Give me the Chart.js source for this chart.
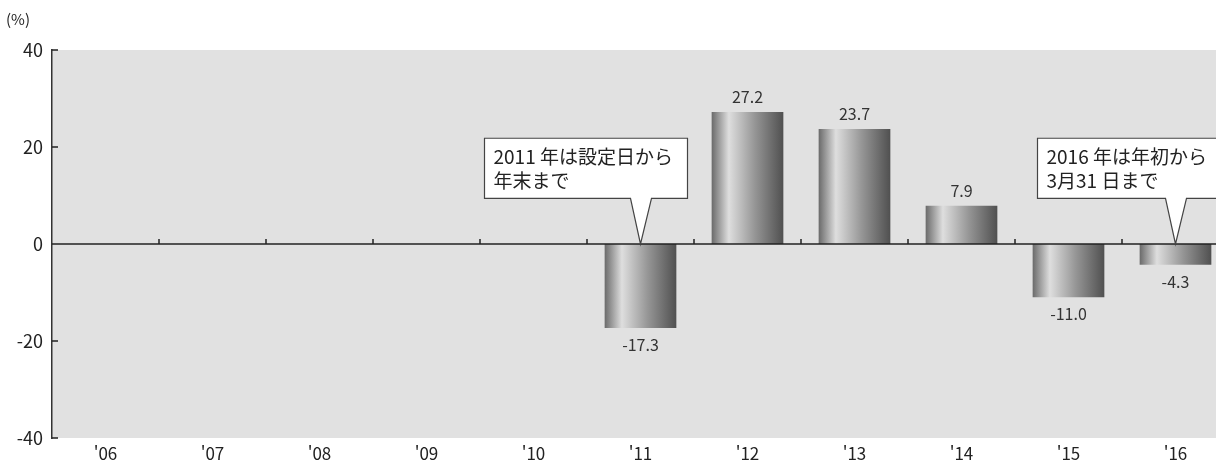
<!DOCTYPE html>
<html lang="ja">
<head>
    <meta charset="UTF-8">
    <title>年間騰落率</title>
    <script src="https://cdn.jsdelivr.net/npm/chart.js"></script>
    <style>
        body { margin: 0; background: #fff; overflow: hidden; }
        #wrap { position: relative; width: 1229px; height: 465px; }
    </style>
</head>
<body>
    <div id="wrap"><canvas id="returnChart"></canvas></div>

    <script>
        // データ
        const years = ["'06", "'07", "'08", "'09", "'10", "'11", "'12", "'13", "'14", "'15", "'16"];
        const returns = [null, null, null, null, null, -17.3, 27.2, 23.7, 7.9, -11.0, -4.3];
        const yTicks = [40, 20, 0, -20, -40];
        const callouts = [
            { index: 5, lines: ['2011 年は設定日から', '年末まで'] },
            { index: 10, lines: ['2016 年は年初から', '3月31 日まで'] }
        ];

        const FONT = '"Noto Sans CJK JP", "Noto Sans", sans-serif';

        // 棒のグラデーション
        const barFill = (c) => {
            const chart = c.chart;
            if (!chart.chartArea) return '#888';
            const xs = chart.scales.x;
            const cx = xs.getPixelForValue(c.dataIndex);
            const w = xs.width / years.length * 0.67;
            const g = chart.ctx.createLinearGradient(cx - w / 2, 0, cx + w / 2, 0);
            g.addColorStop(0, '#6a6a6a');
            g.addColorStop(0.24, '#dedede');
            g.addColorStop(0.6, '#969696');
            g.addColorStop(1, '#505050');
            return g;
        };

        const decorations = {
            id: 'decorations',
            beforeDraw(chart) {
                const { ctx, chartArea: a } = chart;
                ctx.save();
                ctx.fillStyle = '#e1e1e1';
                ctx.fillRect(a.left, a.top, a.right - a.left, a.bottom - a.top);
                ctx.restore();
            },
            afterDatasetsDraw(chart) {
                const { ctx, chartArea: a, scales: { x, y } } = chart;
                const y0 = y.getPixelForValue(0);
                ctx.save();
                // ゼロ線と目盛り
                ctx.strokeStyle = '#222';
                ctx.lineWidth = 1.5;
                ctx.beginPath();
                ctx.moveTo(a.left, y0);
                ctx.lineTo(a.right, y0);
                const step = x.width / years.length;
                for (let i = 1; i < years.length; i++) {
                    const bx = a.left + step * i;
                    ctx.moveTo(bx, y0);
                    ctx.lineTo(bx, y0 - 5);
                }
                // 縦軸の目盛り
                yTicks.forEach(v => {
                    const py = y.getPixelForValue(v);
                    ctx.moveTo(a.left, py);
                    ctx.lineTo(a.left + 6, py);
                });
                ctx.stroke();

                // 数値ラベル
                ctx.fillStyle = '#333';
                ctx.font = '16px ' + FONT;
                ctx.textAlign = 'center';
                ctx.textBaseline = 'middle';
                chart.getDatasetMeta(0).data.forEach((bar, i) => {
                    const v = returns[i];
                    if (v === null) return;
                    const ly = v >= 0 ? bar.y - 15 : bar.y + 17;
                    ctx.fillText(v.toFixed(1), bar.x, ly);
                });

                // 吹き出し
                callouts.forEach(co => {
                    const tx = x.getPixelForValue(co.index);
                    const top = y.getPixelForValue(21.8);
                    const bot = y.getPixelForValue(9.4);
                    const left = tx - (co.index === 5 ? 156 : 138);
                    const right = tx + 47;
                    ctx.beginPath();
                    ctx.moveTo(left, top);
                    ctx.lineTo(right, top);
                    ctx.lineTo(right, bot);
                    ctx.lineTo(tx + 11, bot);
                    ctx.lineTo(tx, y0);
                    ctx.lineTo(tx - 10, bot);
                    ctx.lineTo(left, bot);
                    ctx.closePath();
                    ctx.fillStyle = '#fff';
                    ctx.fill();
                    ctx.strokeStyle = '#444';
                    ctx.lineWidth = 1.2;
                    ctx.stroke();
                    ctx.fillStyle = '#222';
                    ctx.font = '19px ' + FONT;
                    ctx.textAlign = 'left';
                    co.lines.forEach((t, k) => ctx.fillText(t, left + 9, top + 19 + k * 24));
                });

                // (%)
                ctx.fillStyle = '#222';
                ctx.font = '15px ' + FONT;
                ctx.textAlign = 'left';
                ctx.fillText('(%)', 6, a.top - 31);
                ctx.restore();
            }
        };

        new Chart(document.getElementById('returnChart'), {
            type: 'bar',
            data: {
                labels: years,
                datasets: [{
                    data: returns,
                    backgroundColor: barFill,
                    borderWidth: 0,
                    barPercentage: 0.67,
                    categoryPercentage: 1
                }]
            },
            options: {
                responsive: true,
                maintainAspectRatio: false,
                animation: false,
                layout: { padding: { top: 50, right: 0, left: 0, bottom: 0 } },
                plugins: { legend: { display: false }, tooltip: { enabled: false } },
                scales: {
                    x: {
                        grid: { display: false, drawTicks: false },
                        border: { display: false },
                        ticks: { color: '#222', font: { size: 17, family: FONT }, padding: 5 },
                        afterFit: s => { s.height = 27; }
                    },
                    y: {
                        min: -40,
                        max: 40,
                        afterBuildTicks: s => { s.ticks = yTicks.map(v => ({ value: v })); },
                        grid: { display: false, drawTicks: false },
                        border: { display: true, color: '#333', width: 1.5 },
                        ticks: { color: '#222', font: { size: 18, family: FONT }, padding: 9 },
                        afterFit: s => { s.width = 52; }
                    }
                }
            },
            plugins: [decorations]
        });
    </script>
</body>
</html>
